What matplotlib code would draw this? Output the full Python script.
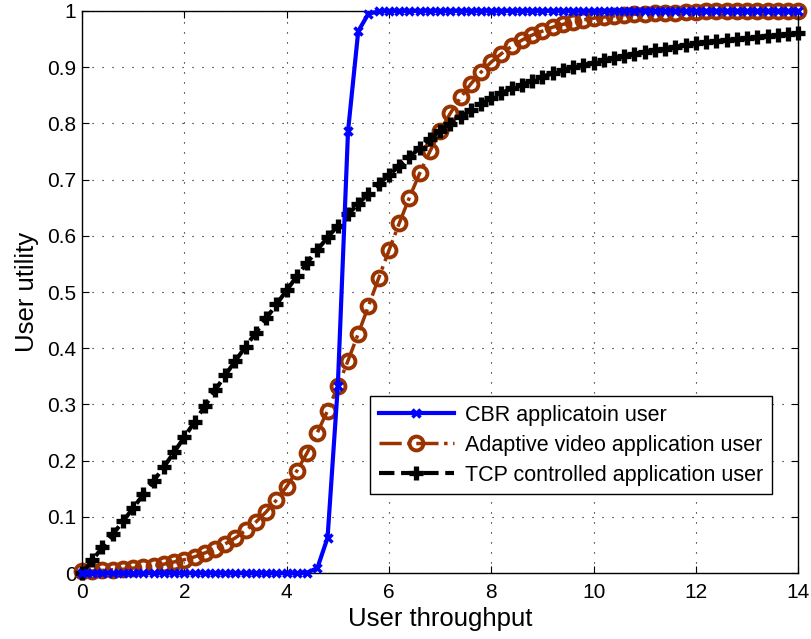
import numpy as np
import matplotlib
matplotlib.use("Agg")
import matplotlib.pyplot as plt
from matplotlib.ticker import FuncFormatter

plt.rcParams['font.family'] = ['Liberation Sans', 'DejaVu Sans']

# throughput samples (step 0.2)
throughput = np.round(np.arange(0, 14.01, 0.2), 1)

# CBR application user
cbr_utility = [0.0, 0.0, 0.0, 0.0, 0.0, 0.0, 0.0, 0.0, 0.0, 0.0,
               0.0, 0.0, 0.0, 0.0, 0.0, 0.0, 0.0, 0.0, 0.0, 0.0,
               0.0, 0.0, 0.001, 0.009, 0.063, 0.332, 0.786, 0.964, 0.995, 0.999,
               1.0, 1.0, 1.0, 1.0, 1.0, 1.0, 1.0, 1.0, 1.0, 1.0,
               1.0, 1.0, 1.0, 1.0, 1.0, 1.0, 1.0, 1.0, 1.0, 1.0,
               1.0, 1.0, 1.0, 1.0, 1.0, 1.0, 1.0, 1.0, 1.0, 1.0,
               1.0, 1.0, 1.0, 1.0, 1.0, 1.0, 1.0, 1.0, 1.0, 1.0, 1.0]

# adaptive video application user
video_utility = [0.003, 0.004, 0.005, 0.006, 0.007, 0.009, 0.011, 0.013, 0.016, 0.020,
                 0.024, 0.029, 0.036, 0.043, 0.052, 0.063, 0.076, 0.091, 0.109, 0.130,
                 0.154, 0.182, 0.214, 0.250, 0.289, 0.332, 0.378, 0.426, 0.475, 0.525,
                 0.574, 0.622, 0.668, 0.711, 0.750, 0.786, 0.818, 0.846, 0.870, 0.891,
                 0.909, 0.924, 0.937, 0.948, 0.957, 0.964, 0.971, 0.976, 0.980, 0.984,
                 0.987, 0.989, 0.991, 0.993, 0.994, 0.995, 0.996, 0.997, 0.997, 0.998,
                 0.998, 0.999, 0.999, 0.999, 0.999, 0.999, 1.0, 1.0, 1.0, 1.0, 1.0]

# TCP controlled application user
tcp_utility = [0.0, 0.023, 0.046, 0.069, 0.092, 0.116, 0.14, 0.164, 0.189, 0.215,
               0.242, 0.269, 0.297, 0.325, 0.352, 0.378, 0.403, 0.428, 0.453, 0.478,
               0.503, 0.528, 0.552, 0.575, 0.597, 0.618, 0.638, 0.657, 0.675, 0.692,
               0.708, 0.724, 0.74, 0.756, 0.772, 0.787, 0.799, 0.811, 0.823, 0.834,
               0.845, 0.854, 0.862, 0.869, 0.876, 0.883, 0.889, 0.895, 0.9, 0.904,
               0.908, 0.912, 0.916, 0.92, 0.924, 0.927, 0.93, 0.933, 0.936, 0.939,
               0.942, 0.944, 0.946, 0.948, 0.95, 0.952, 0.954, 0.956, 0.957, 0.959, 0.96]

labels = ['CBR applicatoin user', 'Adaptive video application user',
          'TCP controlled application user']

fig = plt.figure(figsize=(8.12, 6.39), dpi=100)
ax = fig.add_axes([0.101, 0.103, 0.882, 0.880])

ax.plot(throughput, cbr_utility, '-', color='#0000ff', lw=3,
        marker='x', ms=6, mew=2.5, label=labels[0], zorder=3, clip_on=False)
ax.plot(throughput, video_utility, '-.', color='#993300', lw=2.5,
        marker='o', ms=10, mew=2.8, mfc='none', label=labels[1], zorder=2, clip_on=False)
ax.plot(throughput, tcp_utility, '--', color='black', lw=3,
        marker='+', ms=10.5, mew=3.8, label=labels[2], zorder=2, clip_on=False)

ax.set_xlim(0, 14)
ax.set_ylim(0, 1)
ax.set_xticks(np.arange(0, 15, 2))
ax.set_yticks(np.arange(0, 1.01, 0.1))
ax.yaxis.set_major_formatter(FuncFormatter(lambda v, p: '%g' % round(v, 1)))
ax.tick_params(direction='in', labelsize=15, length=5, top=True, right=True)
ax.tick_params(axis='x', pad=7)
ax.tick_params(axis='y', pad=4)
ax.grid(True, linestyle=(0, (1, 8)), color='black', lw=0.8)
for s in ax.spines.values():
    s.set_linewidth(1.0)

ax.set_xlabel('User throughput', fontsize=18.5, labelpad=4)
ax.set_ylabel('User utility', fontsize=18.5, labelpad=6)

leg = ax.legend(loc='upper right', bbox_to_anchor=(0.978, 0.334), numpoints=1,
                fancybox=False, edgecolor='black', framealpha=1, fontsize=15.5,
                handlelength=3.5, handletextpad=0.5, borderpad=0.4, labelspacing=0.42)
leg.get_frame().set_linewidth(1.0)

fig.savefig('out.png', dpi=100)
